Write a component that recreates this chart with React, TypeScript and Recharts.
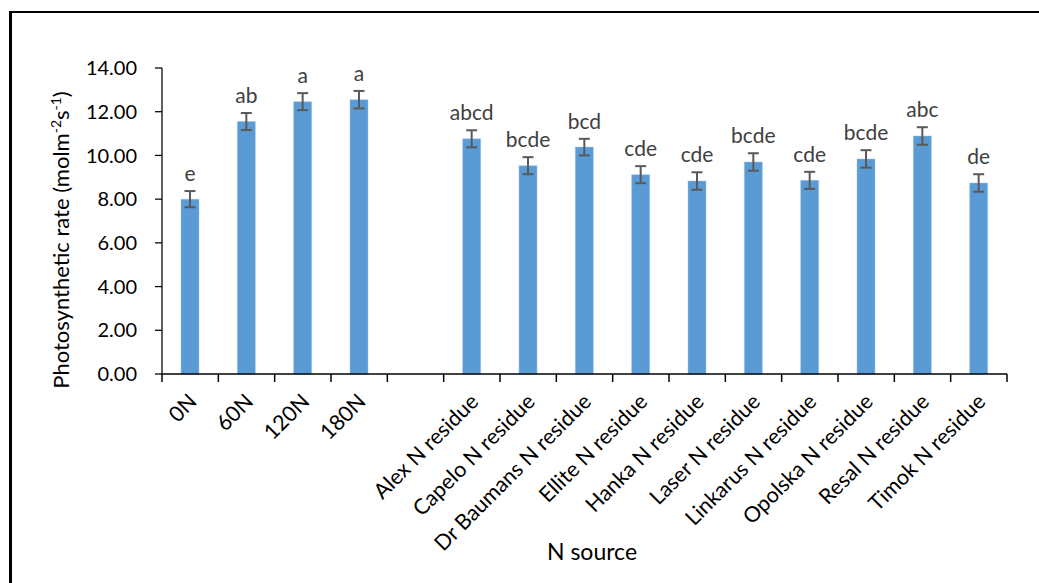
import { BarChart, Bar, XAxis, YAxis, ErrorBar, LabelList, Label } from 'recharts';

const categories = [
  '0N', '60N', '120N', '180N', '',
  'Alex N residue', 'Capelo N residue', 'Dr Baumans N residue', 'Ellite N residue',
  'Hanka N residue', 'Laser N residue', 'Linkarus N residue', 'Opolska N residue',
  'Resal N residue', 'Timok N residue'
];
const rates = [8.0, 11.55, 12.46, 12.55, null, 10.76, 9.53, 10.38, 9.12, 8.83, 9.7, 8.86, 9.84, 10.89, 8.74];
const errors = [0.37, 0.39, 0.39, 0.4, null, 0.39, 0.39, 0.38, 0.39, 0.4, 0.4, 0.39, 0.4, 0.4, 0.4];
const letters = ['e', 'ab', 'a', 'a', '', 'abcd', 'bcde', 'bcd', 'cde', 'cde', 'bcde', 'cde', 'bcde', 'abc', 'de'];
const yTicks = [0, 2, 4, 6, 8, 10, 12, 14];

const data = categories.map((name, i) => ({
  name,
  rate: rates[i],
  err: errors[i],
  letter: letters[i]
}));

const FONT = 'Lato, "Open Sans", sans-serif';

// labels sit below, tick marks go on the category boundaries like excel
const XTick = ({ x, y, payload, index }: any) => {
  const half = payload.offset ?? 0;
  const last = index === categories.length - 1;
  return (
    <g>
      <line x1={x - half} x2={x - half} y1={y - 10} y2={y - 2} stroke='#000' strokeWidth={1.5} />
      {last && <line x1={x + half} x2={x + half} y1={y - 10} y2={y - 2} stroke='#000' strokeWidth={1.5} />}
      <g transform={`translate(${x + 8},${y + 19})`}>
        <text x={0} y={0} textAnchor='end' transform='rotate(-45)' fontSize={21.5} fill='#000' fontFamily={FONT}>
          {payload.value}
        </text>
      </g>
    </g>
  );
};

const LetterLabel = (props: any) => {
  const { x, y, width, height, value } = props;
  const d = data.find((e) => e.name === value);
  if (!d || d.rate == null) return null;
  const pxPerUnit = height / d.rate;
  const top = y - (d.err ?? 0) * pxPerUnit;
  return (
    <text x={x + width / 2} y={top - 10} textAnchor='middle' fontSize={21} fill='#404040' fontFamily={FONT}>
      {d.letter}
    </text>
  );
};

const YTitle = () => (
  <text
    transform='translate(69,240) rotate(-90)'
    textAnchor='middle'
    fontSize={22}
    fill='#000'
    fontFamily={FONT}
  >
    Photosynthetic rate (molm
    <tspan dy={-8} fontSize={14}>-2</tspan>
    <tspan dy={8}>s</tspan>
    <tspan dy={-8} fontSize={14}>-1</tspan>
    <tspan dy={8}>)</tspan>
  </text>
);

const XTitle = () => (
  <text x={592} y={560} textAnchor='middle' fontSize={23} fill='#000' fontFamily={FONT}>
    N source
  </text>
);

export default function App() {
  return (
    <div style={{ position: 'fixed', left: 0, top: 0, width: 1039, height: 583, background: '#fff' }}>
      <div
        style={{
          position: 'absolute',
          left: 9,
          top: 11,
          width: 1039,
          height: 600,
          borderLeft: '3px solid #000',
          borderTop: '2px solid #000'
        }}
      />
      <div style={{ position: 'absolute', left: 0, top: 0 }}>
        <BarChart
          width={1039}
          height={583}
          data={data}
          margin={{ top: 68, right: 32, left: 0, bottom: 0 }}
        >
          <YAxis
            domain={[0, 14]}
            ticks={yTicks}
            interval={0}
            width={162}
            tickFormatter={(v: number) => v.toFixed(2)}
            tick={{ fontSize: 20, fill: '#000', fontFamily: FONT }}
            tickSize={7}
            tickMargin={18}
            axisLine={{ stroke: '#000', strokeWidth: 1.25 }}
            tickLine={{ stroke: '#000', strokeWidth: 1.25 }}
          >
            <Label content={<YTitle />} />
          </YAxis>
          <XAxis
            dataKey='name'
            interval={0}
            height={209}
            tick={<XTick />}
            tickSize={8}
            tickMargin={2}
            axisLine={{ stroke: '#000', strokeWidth: 1.5 }}
            tickLine={{ stroke: 'none' }}
          >
            <Label content={<XTitle />} />
          </XAxis>
          <Bar dataKey='rate' fill='#5B9BD5' stroke='#9DC3E6' strokeWidth={0.5} barSize={18} isAnimationActive={false}>
            <ErrorBar dataKey='err' width={5.5} stroke='#595959' strokeWidth={2} />
            <LabelList dataKey='name' content={<LetterLabel />} />
          </Bar>
        </BarChart>
      </div>
    </div>
  );
}
